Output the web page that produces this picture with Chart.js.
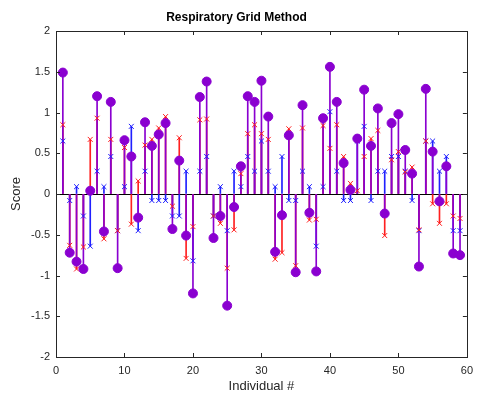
<!DOCTYPE html>
<html>
<head>
<meta charset="utf-8">
<script src="https://cdn.jsdelivr.net/npm/chart.js@4/dist/chart.umd.min.js"></script>
<style>
  html, body { margin: 0; padding: 0; background: #fff; }
  #wrap { width: 480px; height: 401px; }
</style>
</head>
<body>
<div id="wrap"><canvas id="gridChart" width="480" height="401"></canvas></div>
<script>
// Individuals along the x axis
const individuals = [1, 2, 3, 4, 5, 6, 7, 8, 9, 10, 11, 12, 13, 14, 15, 16, 17, 18, 19, 20,
  21, 22, 23, 24, 25, 26, 27, 28, 29, 30, 31, 32, 33, 34, 35, 36, 37, 38, 39, 40,
  41, 42, 43, 44, 45, 46, 47, 48, 49, 50, 51, 52, 53, 54, 55, 56, 57, 58, 59];

// Red crosses (first score component)
const redScores = [0.85, -0.63, -0.92, -0.65, 0.67, 0.93, -0.55, 0.67, -0.45, 0.57,
  -0.37, 0.16, 0.60, 0.67, 0.81, 0.95, -0.15, 0.69, -0.79, -0.40,
  0.91, 0.92, -0.27, -0.36, -0.91, -0.44, 0.25, 0.74, 0.85, 0.74,
  0.67, -0.80, -0.72, 0.80, -0.88, 0.81, -0.32, -0.31, 0.84, 0.56,
  0.85, 0.46, 0.13, 0.04, 0.46, 0.68, 0.78, -0.51, 0.42, 0.52,
  0.27, 0.33, -0.44, 0.65, -0.12, -0.36, -0.12, -0.27, -0.30];

// Blue crosses (second score component)
const blueScores = [0.65, -0.08, 0.09, -0.27, -0.64, 0.28, 0.09, 0.46, -0.45, 0.09,
  0.83, -0.45, 0.28, -0.08, -0.08, -0.08, -0.27, -0.27, 0.28, -0.82,
  0.28, 0.46, -0.27, 0.09, -0.45, 0.28, 0.09, 0.46, 0.28, 0.65,
  0.28, 0.09, 0.46, -0.08, -0.08, 0.28, 0.09, -0.64, 0.09, 1.01,
  0.28, -0.08, -0.08, 0.65, 0.83, -0.08, 0.28, 0.28, 0.46, 0.46,
  0.28, -0.08, -0.45, 0.65, 0.65, 0.28, 0.46, -0.45, -0.45];

// Purple circles (total score)
const totalScores = [1.49, -0.72, -0.83, -0.92, 0.04, 1.20, -0.46, 1.13, -0.91, 0.66,
  0.46, -0.29, 0.88, 0.59, 0.73, 0.87, -0.43, 0.41, -0.51, -1.22,
  1.19, 1.38, -0.54, -0.27, -1.37, -0.16, 0.34, 1.20, 1.13, 1.39,
  0.95, -0.71, -0.26, 0.72, -0.96, 1.09, -0.23, -0.95, 0.93, 1.56,
  1.13, 0.38, 0.05, 0.68, 1.28, 0.59, 1.05, -0.24, 0.87, 0.98,
  0.54, 0.25, -0.89, 1.29, 0.52, -0.09, 0.34, -0.73, -0.75];

const xTicks = [0, 10, 20, 30, 40, 50, 60];
const yTicks = [-2, -1.5, -1, -0.5, 0, 0.5, 1, 1.5, 2];

const PURPLE = "#8a00d0";
const RED = "#ff2020";
const BLUE = "#2020ff";
const AXIS = "#262626";
const FONT = "'Liberation Sans', Arial, Helvetica, sans-serif";

// pair up x and y values for the linear x axis
function points(values) {
  return individuals.map((ind, i) => ({ x: ind, y: values[i] }));
}

// stems are thin bars, markers are scatter points on top
function stem(values, color, order) {
  return {
    type: "bar",
    data: points(values),
    backgroundColor: color,
    borderWidth: 0,
    barThickness: 1,
    grouped: false,
    order: order
  };
}
function markers(values, color, style, radius, order) {
  return {
    type: "scatter",
    data: points(values),
    pointStyle: style,
    pointRadius: radius,
    pointBorderWidth: 1,
    borderColor: color,
    backgroundColor: color,
    order: order
  };
}

// Box round the plot with inward ticks on all four sides
const boxPlugin = {
  id: "boxTicks",
  afterDraw(chart) {
    const { ctx, chartArea: a, scales } = chart;
    const len = 4;
    ctx.save();
    ctx.strokeStyle = AXIS;
    ctx.lineWidth = 1;
    ctx.beginPath();
    xTicks.forEach(v => {
      const px = Math.round(scales.x.getPixelForValue(v)) + 0.5;
      ctx.moveTo(px, a.bottom); ctx.lineTo(px, a.bottom - len);
      ctx.moveTo(px, a.top); ctx.lineTo(px, a.top + len);
    });
    yTicks.forEach(v => {
      const py = Math.round(scales.y.getPixelForValue(v)) + 0.5;
      ctx.moveTo(a.left, py); ctx.lineTo(a.left + len, py);
      ctx.moveTo(a.right, py); ctx.lineTo(a.right - len, py);
    });
    ctx.stroke();
    ctx.strokeRect(Math.round(a.left) + 0.5, Math.round(a.top) + 0.5,
      Math.round(a.right - a.left), Math.round(a.bottom - a.top));
    ctx.restore();
  }
};

const chartGrid = new Chart(document.getElementById("gridChart").getContext("2d"), {
  type: "bar",
  data: {
    datasets: [
      stem(blueScores, BLUE, 6),
      stem(redScores, RED, 5),
      stem(totalScores, PURPLE, 4),
      markers(blueScores, BLUE, "crossRot", 3.5, 3),
      markers(redScores, RED, "crossRot", 3.5, 2),
      markers(totalScores, PURPLE, "circle", 4.5, 1)
    ]
  },
  options: {
    responsive: false,
    animation: false,
    layout: { padding: { left: 0, right: 7, top: 0, bottom: 0 } },
    plugins: {
      legend: { display: false },
      tooltip: { enabled: false },
      title: {
        display: true,
        text: "Respiratory Grid Method",
        color: "#000",
        font: { family: FONT, size: 12, weight: "bold" },
        padding: { top: 10, bottom: 6.6 }
      }
    },
    scales: {
      x: {
        type: "linear",
        min: 0,
        max: 60,
        offset: false,
        afterFit: s => { s.height = 44; },
        afterBuildTicks: s => { s.ticks = xTicks.map(v => ({ value: v })); },
        grid: { display: false, offset: false, drawTicks: false },
        border: { display: false },
        ticks: {
          color: AXIS,
          font: { family: FONT, size: 11 },
          padding: 7,
          maxRotation: 0,
          callback: v => String(v)
        },
        title: {
          display: true,
          text: "Individual #",
          color: AXIS,
          font: { family: FONT, size: 13 },
          padding: { top: 0, bottom: 7 }
        }
      },
      y: {
        min: -2,
        max: 2,
        afterFit: s => { s.width = 56; },
        afterBuildTicks: s => { s.ticks = yTicks.map(v => ({ value: v })); },
        grid: {
          drawTicks: false,
          color: c => (c.tick && c.tick.value === 0 ? "#000" : "rgba(0,0,0,0)")
        },
        border: { display: false },
        ticks: {
          color: AXIS,
          font: { family: FONT, size: 11 },
          padding: 6,
          callback: v => String(v)
        },
        title: {
          display: true,
          text: "Score",
          color: AXIS,
          font: { family: FONT, size: 13 },
          padding: { top: 9, bottom: 0 }
        }
      }
    }
  },
  plugins: [boxPlugin]
});
</script>
</body>
</html>
